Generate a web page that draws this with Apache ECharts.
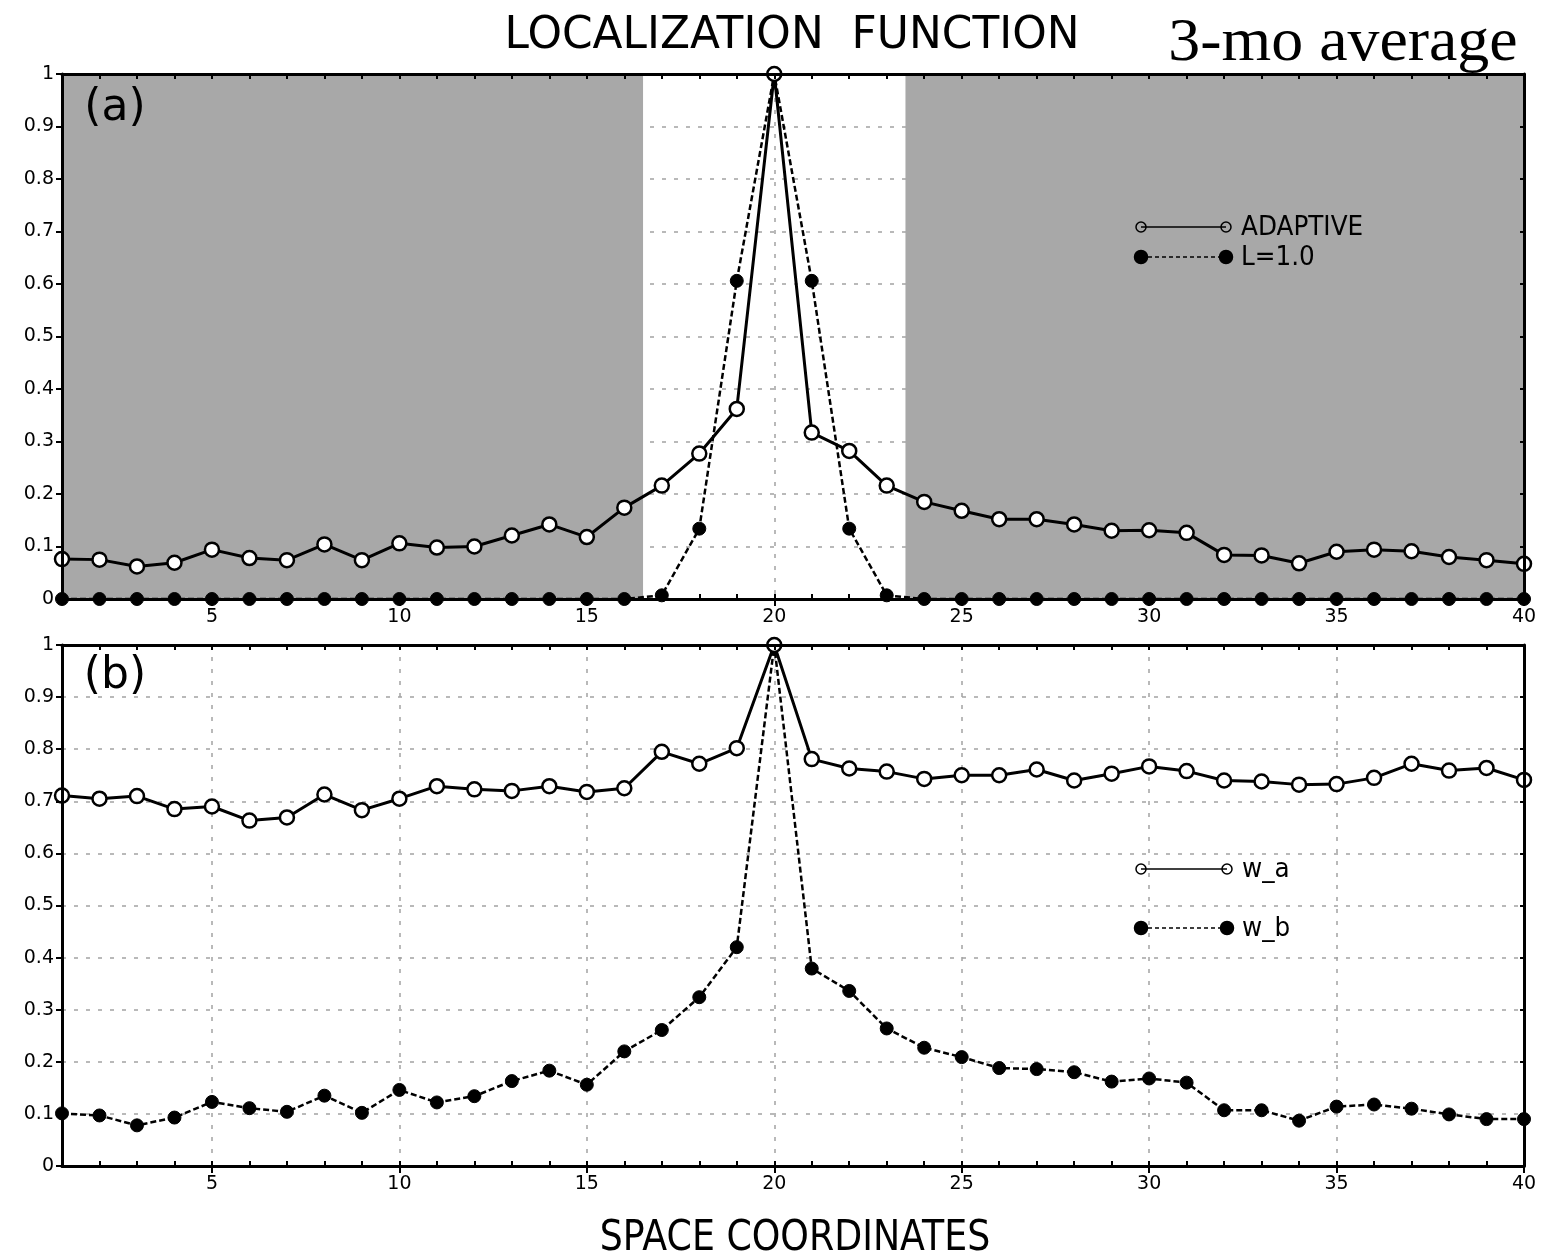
<!DOCTYPE html>
<html><head><meta charset="utf-8">
<script src="https://cdn.jsdelivr.net/npm/echarts@6/dist/echarts.min.js"></script>
<style>html,body{margin:0;padding:0;background:#fff}#c{width:1547px;height:1257px}</style>
</head><body><div id="c"></div>
<script>
// ---------- data ----------
const xCats = ['1','2','3','4','5','6','7','8','9','10','11','12','13','14','15','16','17','18','19','20',
               '21','22','23','24','25','26','27','28','29','30','31','32','33','34','35','36','37','38','39','40'];
// panel (a)
const adaptiveA = [0.076,0.075,0.062,0.069,0.094,0.078,0.074,0.104,0.074,0.106,0.098,0.100,0.121,0.142,0.118,0.174,
                   0.216,0.277,0.362,1.000,0.317,0.282,0.216,0.185,0.168,0.152,0.152,0.142,0.130,0.131,0.126,0.084,
                   0.083,0.068,0.090,0.094,0.091,0.080,0.074,0.067];
const l10A = [0,0,0,0,0,0,0,0,0,0,0,0,0,0,0,0,0.007,0.134,0.606,1.000,0.606,0.134,0.007,0,0,0,0,0,0,0,0,0,0,0,0,0,0,0,0,0];
// panel (b)
const wA = [0.711,0.705,0.710,0.685,0.690,0.663,0.669,0.713,0.683,0.705,0.729,0.723,0.720,0.729,0.718,0.725,
            0.795,0.772,0.802,1.000,0.781,0.763,0.757,0.743,0.750,0.750,0.761,0.740,0.753,0.767,0.758,0.740,
            0.738,0.732,0.733,0.745,0.772,0.759,0.764,0.741];
const wB = [0.101,0.097,0.078,0.093,0.123,0.111,0.104,0.135,0.102,0.146,0.122,0.134,0.163,0.183,0.156,0.220,
            0.261,0.324,0.420,1.000,0.379,0.336,0.264,0.227,0.209,0.188,0.186,0.180,0.162,0.168,0.160,0.107,
            0.107,0.087,0.114,0.118,0.110,0.099,0.090,0.090];
// shaded x-ranges in panel (a)
const shadeRanges = [[1,16.5],[23.5,40]];
const yMin = 0, yMax = 1, yStep = 0.1;

// ---------- style ----------
const FONT = 'DejaVu Sans';
const BLACK = '#000';
const isMajor = (i, v) => Number(v) % 5 === 0;
const gridLine = {color:'#a3a3a3', width:1.5, type:[4,8]};
const frame = {color:BLACK, width:3};

const grids = [
  {left:62, top:74, width:1462, height:525},
  {left:62, top:645, width:1462, height:521}
];

const xAxes = [], yAxes = [];
grids.forEach((g, gi) => {
  const base = {type:'category', gridIndex:gi, data:xCats, boundaryGap:false};
  // 0: splitLines only (below shading)
  xAxes.push(Object.assign({}, base, {position:'bottom', z:0,
    axisLine:{show:false}, axisTick:{show:false}, axisLabel:{show:false},
    splitLine:{show:true, interval:isMajor, lineStyle:gridLine}}));
  // 1: frame bottom with minor ticks
  xAxes.push(Object.assign({}, base, {position:'bottom', z:4,
    axisLine:{show:true, onZero:false, lineStyle:frame},
    axisTick:{show:true, interval:0, inside:true, length:5, lineStyle:{color:BLACK, width:2}},
    axisLabel:{show:false}, splitLine:{show:false}}));
  // 2: major ticks + labels
  xAxes.push(Object.assign({}, base, {position:'bottom', z:4,
    axisLine:{show:false, onZero:false},
    axisTick:{show:true, interval:isMajor, inside:false, length:7, lineStyle:{color:BLACK, width:2}},
    axisLabel:{show:true, interval:isMajor, color:BLACK, fontFamily:FONT, fontSize:19, margin:9},
    splitLine:{show:false}}));
  // 3: frame top
  xAxes.push(Object.assign({}, base, {position:'top', z:4,
    axisLine:{show:true, onZero:false, lineStyle:frame},
    axisTick:{show:true, interval:0, inside:true, length:5, lineStyle:{color:BLACK, width:2}},
    axisLabel:{show:false}, splitLine:{show:false}}));
  // 4: hidden value axis for shading
  xAxes.push({type:'value', gridIndex:gi, min:1, max:40, show:false, position:'bottom'});

  const ybase = {type:'value', gridIndex:gi, min:yMin, max:yMax, interval:yStep};
  // 0: splitLines
  yAxes.push(Object.assign({}, ybase, {position:'left', z:0,
    axisLine:{show:false}, axisTick:{show:false}, axisLabel:{show:false},
    splitLine:{show:true, lineStyle:gridLine}}));
  // 1: left frame with labels
  yAxes.push(Object.assign({}, ybase, {position:'left', z:4,
    axisLine:{show:true, onZero:false, lineStyle:frame},
    axisTick:{show:true, inside:false, length:6, lineStyle:{color:BLACK, width:2}},
    axisLabel:{show:true, color:BLACK, fontFamily:FONT, fontSize:19, margin:8},
    splitLine:{show:false}}));
  // 2: right frame
  yAxes.push(Object.assign({}, ybase, {position:'right', z:4,
    axisLine:{show:true, onZero:false, lineStyle:frame},
    axisTick:{show:true, inside:true, length:4, lineStyle:{color:BLACK, width:2}},
    axisLabel:{show:false}, splitLine:{show:false}}));
});

const openSym = {color:'#fff', borderColor:BLACK, borderWidth:2.5};
const fillSym = {color:BLACK, borderColor:BLACK, borderWidth:1};

const series = [
  {type:'line', name:'shade', xAxisIndex:4, yAxisIndex:0, data:[[1,null]], showSymbol:false, z:1, silent:true,
   markArea:{silent:true, itemStyle:{color:'#a8a8a8', opacity:1},
     data: shadeRanges.map(r => [{xAxis:r[0]}, {xAxis:r[1]}])}},
  {type:'line', name:'L=1.0', xAxisIndex:0, yAxisIndex:0, data:l10A, z:3,
   symbol:'circle', symbolSize:13, itemStyle:fillSym,
   lineStyle:{color:BLACK, width:2.5, type:[6,3]}},
  {type:'line', name:'ADAPTIVE', xAxisIndex:0, yAxisIndex:0, data:adaptiveA, z:3,
   symbol:'circle', symbolSize:14, itemStyle:openSym,
   lineStyle:{color:BLACK, width:3}},
  {type:'line', name:'w_b', xAxisIndex:5, yAxisIndex:3, data:wB, z:3,
   symbol:'circle', symbolSize:13, itemStyle:fillSym,
   lineStyle:{color:BLACK, width:2.5, type:[6,3]}},
  {type:'line', name:'w_a', xAxisIndex:5, yAxisIndex:3, data:wA, z:3,
   symbol:'circle', symbolSize:14, itemStyle:openSym,
   lineStyle:{color:BLACK, width:3}}
];

function txt(text, x, y, size, opts) {
  opts = opts || {};
  return {type:'text', x:x, y:y, scaleX:opts.sx || 1, z:10,
    style:{text:text, fill:BLACK, fontSize:size, fontFamily:opts.family || FONT,
      align:opts.align || 'center', verticalAlign:'middle',
      textAlign:opts.align || 'center', textVerticalAlign:'middle'}};
}
function legendItem(x1, x2, y, filled, label) {
  const r = filled ? 6.5 : 5;
  const cs = {fill: filled ? BLACK : 'none', stroke:BLACK, lineWidth:1.5};
  return [
    {type:'line', z:10, shape:{x1:x1, y1:y, x2:x2, y2:y}, style:{stroke:BLACK, lineWidth:1.5, lineDash: filled ? [4,3] : null}},
    {type:'circle', z:11, shape:{cx:x1, cy:y, r:r}, style:cs},
    {type:'circle', z:11, shape:{cx:x2, cy:y, r:r}, style:cs},
    txt(label, x2 + 15, y + 1, 26, {align:'left', sx:0.95})
  ];
}

const graphic = [].concat(
  [txt('LOCALIZATION  FUNCTION', 792, 36, 45, {sx:0.975}),
   txt('3-mo average', 1343, 44, 62, {family:'Liberation Serif', sx:1.03}),
   txt('SPACE COORDINATES', 795, 1239, 42, {sx:0.865}),
   txt('(a)', 115, 109, 44),
   txt('(b)', 115, 677, 44)],
  legendItem(1141, 1226, 227, false, 'ADAPTIVE'),
  legendItem(1141, 1226, 257, true, 'L=1.0'),
  legendItem(1141, 1227, 869, false, 'w_a'),
  legendItem(1141, 1227, 928, true, 'w_b')
);

const chart = echarts.init(document.getElementById('c'), null, {renderer:'canvas', width:1547, height:1257});
chart.setOption({
  animation:false,
  backgroundColor:'#fff',
  grid: grids.map(g => Object.assign({outerBoundsMode:'none', containLabel:false}, g)),
  xAxis: xAxes,
  yAxis: yAxes,
  series: series,
  graphic: graphic
});
</script></body></html>
